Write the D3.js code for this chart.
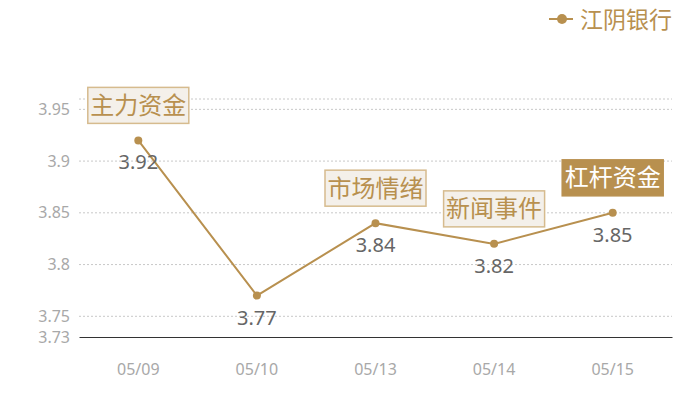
<!DOCTYPE html>
<html>
<head>
<meta charset="utf-8">
<script src="https://cdn.jsdelivr.net/npm/d3@7"></script>
<style>
  html, body { margin: 0; padding: 0; background: #fff; overflow: hidden; }
  svg { display: block; }
  text { font-family: "Noto Sans CJK SC", "Noto Sans", sans-serif; }
</style>
</head>
<body>
<svg width="700" height="400"></svg>
<script>
const dates = ['05/09', '05/10', '05/13', '05/14', '05/15'];
const prices = [3.92, 3.77, 3.84, 3.82, 3.85];
const notes = ['主力资金', '', '市场情绪', '新闻事件', '杠杆资金'];
const yTicks = [3.73, 3.75, 3.8, 3.85, 3.9, 3.95];
const seriesName = '江阴银行';

const svg = d3.select('svg');
const width = +svg.attr('width');
const height = +svg.attr('height');
const gold = '#b8904f';

const margin = {top: 99, right: 28, bottom: 63, left: 79};
const innerWidth = width - margin.left - margin.right;
const innerHeight = height - margin.top - margin.bottom;

const data = dates.map((d, i) => ({date: d, price: prices[i], note: notes[i]}));

const xScale = d3.scaleBand()
  .domain(dates)
  .range([0, innerWidth]);

const yScale = d3.scaleLinear()
  .domain([3.73, 3.96])
  .range([innerHeight, 0]);

const g = svg.append('g')
  .attr('transform', `translate(${margin.left}, ${margin.top})`);

// grid lines
g.selectAll('.grid')
  .data(yTicks.filter(t => t > 3.73).concat([3.96]))
  .enter().append('line')
  .attr('x1', 0)
  .attr('x2', innerWidth)
  .attr('y1', d => yScale(d))
  .attr('y2', d => yScale(d))
  .attr('stroke', '#c8c8c8')
  .attr('stroke-dasharray', '2,2');

const yAxis = d3.axisLeft(yScale)
  .tickValues(yTicks)
  .tickFormat(d => String(+d.toFixed(2)))
  .tickSize(0)
  .tickPadding(9);

const yAxisG = g.append('g').call(yAxis);
yAxisG.select('.domain').remove();
yAxisG.selectAll('text')
  .attr('fill', '#a8a8a8')
  .style('font-size', '16px')
  .style('font-family', '"Noto Sans", sans-serif');

const xAxis = d3.axisBottom(xScale)
  .tickSize(0)
  .tickPadding(27);

const xAxisG = g.append('g').call(xAxis)
  .attr('transform', `translate(0, ${innerHeight})`);
xAxisG.select('.domain').attr('stroke', '#333');
xAxisG.selectAll('text')
  .attr('fill', '#a8a8a8')
  .style('font-size', '16px')
  .style('font-family', '"Noto Sans", sans-serif');

const cx = d => xScale(d.date) + xScale.bandwidth() / 2;
const cy = d => yScale(d.price);

const lineGenerator = d3.line().x(cx).y(cy);

g.append('path')
  .attr('d', lineGenerator(data))
  .attr('fill', 'none')
  .attr('stroke', gold)
  .attr('stroke-width', 2);

g.selectAll('.dot')
  .data(data)
  .enter().append('circle')
  .attr('cx', cx)
  .attr('cy', cy)
  .attr('r', 4)
  .attr('fill', gold);

g.selectAll('.value')
  .data(data)
  .enter().append('text')
  .attr('x', cx)
  .attr('y', d => cy(d) + 29)
  .attr('text-anchor', 'middle')
  .attr('fill', '#666')
  .style('font-size', '20px')
  .style('font-family', '"Noto Sans", sans-serif')
  .text(d => d.price.toFixed(2));

// annotation boxes
const boxW = 101, boxH = 36;
const notesG = g.selectAll('.note')
  .data(data.filter(d => d.note))
  .enter().append('g')
  .attr('transform', d => `translate(${cx(d) - boxW / 2}, ${cy(d) - 17 - boxH})`);

notesG.append('rect')
  .attr('width', boxW)
  .attr('height', boxH)
  .attr('fill', d => d.date === '05/15' ? gold : '#f4f0ea')
  .attr('stroke', d => d.date === '05/15' ? gold : '#d6bb8e')
  .attr('stroke-width', 1.5);

notesG.append('text')
  .attr('x', boxW / 2)
  .attr('y', boxH / 2 + 8.5)
  .attr('text-anchor', 'middle')
  .attr('fill', d => d.date === '05/15' ? '#fff' : gold)
  .style('font-size', '24px')
  .text(d => d.note);

// legend
const legend = svg.append('g').attr('transform', 'translate(549, 19)');
legend.append('line')
  .attr('x1', 0).attr('x2', 24)
  .attr('stroke', gold)
  .attr('stroke-width', 2);
legend.append('circle')
  .attr('cx', 13)
  .attr('r', 5)
  .attr('fill', gold);
legend.append('text')
  .attr('x', 31)
  .attr('y', 8.5)
  .attr('fill', gold)
  .style('font-size', '23px')
  .text(seriesName);
</script>
</body>
</html>
